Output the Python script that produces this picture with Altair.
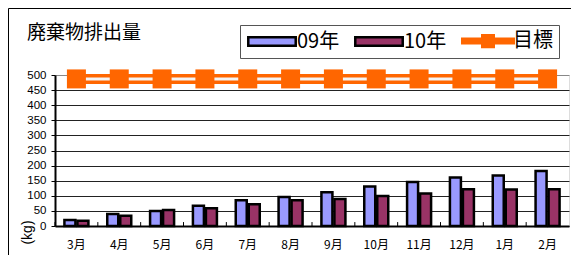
import altair as alt
import pandas as pd

# ---- data ----
months = ["3月", "4月", "5月", "6月", "7月", "8月", "9月", "10月", "11月", "12月", "1月", "2月"]
v09 = [20, 40, 50, 67, 85, 96, 112, 131, 146, 161, 167, 182]
v10 = [17, 34, 53, 59, 72, 85, 89, 99, 108, 122, 121, 122]
target = [487, 487, 487, 487, 487, 487, 487, 487, 487, 487, 487, 487]
series = ["09年", "10年", "目標"]
y_ticks = [0, 50, 100, 150, 200, 250, 300, 350, 400, 450, 500]

fills = ["#9999FF", "#993366", "#FF6600"]
strokes = ["#000000", "#000000", "#FF6600"]
rect_path = "M-3.65,-0.654H3.65V0.654H-3.65Z"
target_path = ("M-3.96,-0.346H-0.885V-0.885H0.885V-0.346H3.96V0.346H0.885V0.885"
               "H-0.885V0.346H-3.96Z")
shapes = [rect_path, rect_path, target_path]

bar_df = pd.DataFrame({
    "month": months * 2,
    "series": ["09年"] * len(months) + ["10年"] * len(months),
    "value": v09 + v10,
})
tgt_df = pd.DataFrame({"month": months, "series": ["目標"] * len(months), "value": target})
tick_df = pd.DataFrame({"month": months, "value": [0] * len(months), "top": [13] * len(months)})

color_scale = alt.Scale(domain=series, range=fills)
stroke_scale = alt.Scale(domain=series, range=strokes)
shape_scale = alt.Scale(domain=series, range=shapes)
x_scale = alt.Scale(domain=months, paddingInner=0, paddingOuter=0)
y_scale = alt.Scale(domain=[0, 500], nice=False)

x_axis = alt.Axis(title=None, ticks=False, grid=False, labelAngle=0,
                  labelFont="Noto Sans CJK JP", labelFontSize=12,
                  labelPadding=13, labelColor="#000000",
                  domainColor="#000000", domainWidth=2)
y_axis = alt.Axis(title="(kg)", values=y_ticks, grid=True, labelOverlap=False,
                  gridColor={"condition": {"test": "datum.value === 500", "value": "#888888"},
                             "value": "#222222"},
                  gridWidth=1, domainColor="#000000", domainWidth=2,
                  tickColor="#000000", tickSize=4, labelPadding=5,
                  labelFont="Liberation Sans", labelFontSize=11.5,
                  labelColor="#000000",
                  titleAngle=270, titleX=-28, titleY=157,
                  titleAlign="center", titleBaseline="middle",
                  titleFont="Liberation Sans", titleFontSize=14,
                  titleFontWeight="normal", titleColor="#000000")

legend = alt.Legend(title=None, orient="none", legendX=185, legendY=-50,
                    direction="horizontal", padding=6, strokeColor="#555555",
                    fillColor="#FFFFFF", cornerRadius=0, symbolSize=169,
                    symbolStrokeWidth=2.5, symbolOffset=16, labelOffset=15,
                    columnPadding=10, labelFont="Noto Sans CJK JP", labelFontSize=20,
                    labelColor="#000000", labelLimit=200)


def X(**kw):
    return alt.X("month:N", sort=months, scale=x_scale, axis=x_axis, **kw)


def Y(field="value:Q"):
    return alt.Y(field, scale=y_scale, axis=y_axis)


bars = alt.Chart(bar_df).mark_bar(strokeWidth=2.5).encode(
    x=X(),
    xOffset=alt.XOffset("series:N", scale=alt.Scale(domain=["09年", "10年"],
                                                     paddingInner=0.154, paddingOuter=0.724)),
    y=Y(),
    color=alt.Color("series:N", scale=color_scale, legend=legend),
    stroke=alt.Stroke("series:N", scale=stroke_scale, legend=legend),
)

line = alt.Chart(tgt_df).mark_line(color="#FF6600", strokeWidth=10).encode(x=X(), y=Y())
stripe = alt.Chart(tgt_df).mark_line(color="#F4F4F4", strokeWidth=3).encode(x=X(), y=Y())
squares = alt.Chart(tgt_df).mark_square(size=361, color="#FF6600", opacity=1,
                                        filled=True).encode(x=X(), y=Y())

legend_carrier = alt.Chart(tgt_df).mark_point(filled=True, opacity=1).encode(
    x=X(), y=Y(),
    color=alt.Color("series:N", scale=color_scale, legend=legend),
    stroke=alt.Stroke("series:N", scale=stroke_scale, legend=legend),
    shape=alt.Shape("series:N", scale=shape_scale, legend=legend),
).transform_filter("false")

ticks = alt.Chart(tick_df).mark_rule(color="#000000", strokeWidth=1).encode(
    x=X(bandPosition=0), y=Y(), y2="top:Q")

frame = alt.Chart(pd.DataFrame({"a": [0]})).mark_rect(
    fill=None, stroke="#000000", strokeWidth=1).encode(
    x=alt.value(-46.5), x2=alt.value(700), y=alt.value(-66.5), y2=alt.value(400))

chart = alt.layer(frame, bars, ticks, line, stripe, squares, legend_carrier).properties(
    width=514, height=151,
    title=alt.TitleParams("廃棄物排出量", anchor="start", frame="group", dx=-28, dy=39,
                          font="Noto Sans CJK JP", fontSize=19, fontWeight="normal",
                          color="#000000"),
    autosize=alt.AutoSizeParams(type="none"),
    padding={"left": 47, "top": 67, "right": 2, "bottom": 29},
).configure_view(
    stroke="#888888", strokeWidth=2
).configure(background="#FFFFFF")

chart.save("out.html", embed_options={"renderer": "svg", "actions": False})
